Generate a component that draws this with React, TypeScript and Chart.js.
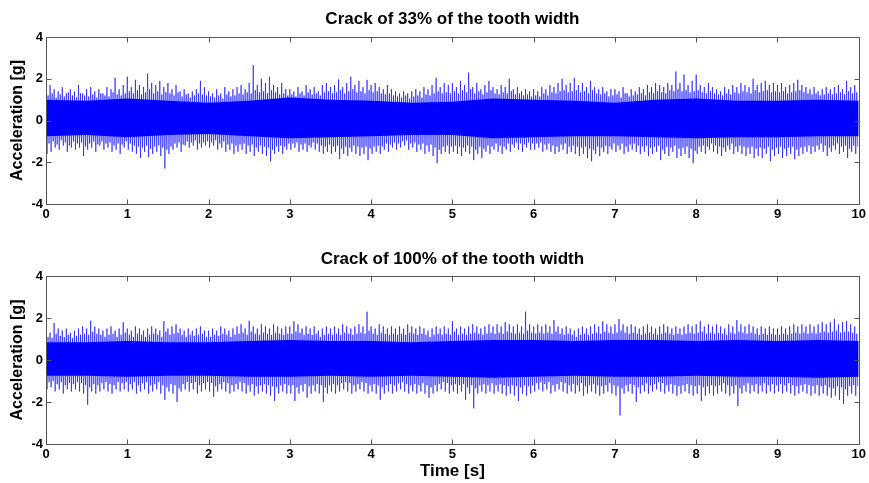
import React, { useEffect, useRef } from "react";
import { Chart, registerables } from "chart.js";

Chart.register(...registerables);

// ---------- data ----------
const SAMPLE_STEP = 0.05; // s between successive readings in each peak array
const CORE_STEP = 0.5; // s between core-band readings

const xTicks = [0, 1, 2, 3, 4, 5, 6, 7, 8, 9, 10];
const yTicks = [-4, -2, 0, 2, 4];

const titles = ["Crack of 33% of the tooth width", "Crack of 100% of the tooth width"];
const yLabel = "Acceleration [g]";
const xLabel = "Time [s]";

// 33 % crack: tall upper / lower peaks every 0.05 s
const crack33Up = [
  1.6, 1.7, 1.5, 1.4, 1.6, 1.3, 1.5, 1.4, 1.7, 1.3, 1.5, 1.6, 1.4, 1.5, 1.3, 1.6, 1.5, 2.05, 1.5, 1.7,
  2.1, 1.6, 1.95, 1.7, 1.6, 2.25, 1.8, 1.7, 1.9, 1.6, 1.8, 1.5, 1.7, 1.4, 1.5, 1.3, 1.4, 1.5, 1.9, 1.6,
  1.4, 1.3, 1.5, 1.3, 1.6, 1.4, 1.5, 1.6, 1.7, 1.5, 1.8, 2.65, 1.7, 2.0, 1.8, 2.1, 1.7, 1.6, 1.8, 1.5,
  1.5, 1.4, 1.6, 1.4, 1.7, 1.5, 1.6, 1.4, 1.7, 1.8, 1.6, 1.7, 1.97, 1.6, 1.8, 2.1, 1.7, 1.9, 1.6, 1.95,
  1.7, 1.8, 1.6, 1.5, 1.7, 1.5, 1.4, 1.3, 1.4, 1.3, 1.4, 1.5, 1.4, 1.6, 1.5, 1.7, 2.05, 1.6, 1.8, 1.7,
  1.8, 1.6, 1.9, 1.7, 2.3, 1.6, 1.8, 1.5, 1.7, 1.9, 1.6, 1.5, 1.7, 1.6, 2.0, 1.5, 1.6, 1.4, 1.5, 1.4,
  1.5, 1.4, 1.6, 1.5, 1.7, 1.6, 1.8, 2.0, 1.7, 1.8, 2.05, 1.7, 1.8, 1.6, 1.9, 1.6, 1.5, 1.6, 1.4, 1.5,
  1.5, 1.4, 1.6, 1.3, 1.5, 1.4, 1.6, 1.5, 1.7, 1.6, 1.8, 1.7, 1.6, 1.8, 1.7, 2.35, 1.8, 2.2, 1.7, 1.9,
  2.2, 1.7, 1.6, 1.8, 1.6, 1.5, 1.4, 1.6, 1.5, 1.7, 1.6, 1.8, 1.7, 1.6, 2.0, 1.7, 1.8, 1.9, 1.7, 1.8,
  1.7, 1.8, 1.6, 1.7, 1.8, 1.95, 1.7, 1.6, 1.5, 1.6, 1.4, 1.5, 1.6, 1.5, 1.6, 1.7, 1.5, 1.9, 1.6, 1.7,
];
const crack33Down = [
  -1.6, -1.5, -1.3, -1.4, -1.2, -1.5, -1.3, -1.4, -1.3, -1.7, -1.4, -1.3, -1.5, -1.2, -1.4, -1.3, -1.5, -1.4, -1.6, -1.3,
  -1.4, -1.5, -1.6, -1.8, -1.5, -1.75, -1.6, -1.5, -1.7, -2.3, -1.6, -1.4, -1.3, -1.5, -1.2, -1.3, -1.2, -1.4, -1.3, -1.2,
  -1.3, -1.2, -1.4, -1.3, -1.5, -1.4, -1.6, -1.5, -1.4, -1.6, -1.5, -1.7, -1.5, -1.6, -1.7, -1.95, -1.6, -1.5, -1.6, -1.4,
  -1.4, -1.3, -1.5, -1.4, -1.5, -1.3, -1.4, -1.5, -1.6, -1.5, -1.6, -1.5, -1.85, -1.6, -1.7, -1.5, -1.6, -1.7, -1.6, -1.9,
  -1.6, -1.5, -1.6, -1.4, -1.5, -1.3, -1.4, -1.3, -1.2, -1.4, -1.3, -1.5, -1.4, -1.6, -1.5, -1.7, -2.05, -1.6, -1.5, -1.6,
  -1.5, -1.6, -1.7, -1.5, -1.6, -1.9, -1.6, -1.8, -1.5, -1.6, -1.4, -1.5, -1.6, -1.4, -1.5, -1.3, -1.4, -1.5, -1.3, -1.4,
  -1.4, -1.3, -1.5, -1.4, -1.5, -1.6, -1.5, -1.4, -1.6, -1.5, -1.6, -1.7, -1.6, -1.8, -1.95, -1.6, -1.7, -1.5, -1.6, -1.4,
  -1.5, -1.4, -1.6, -1.5, -1.4, -1.5, -1.6, -1.5, -1.7, -1.6, -1.5, -1.9, -1.6, -1.7, -1.5, -1.8, -1.7, -1.6, -1.8, -2.05,
  -1.6, -1.5, -1.6, -1.4, -1.5, -1.6, -1.7, -1.5, -1.4, -1.6, -1.5, -1.6, -1.7, -1.6, -1.8, -1.7, -1.8, -1.6, -1.95, -1.7,
  -1.6, -1.8, -1.7, -1.6, -1.85, -1.7, -1.6, -1.5, -1.6, -1.5, -1.4, -1.5, -1.7, -1.5, -1.4, -1.6, -1.5, -1.8, -1.5, -1.6,
];
// 33 % crack: shorter in-between peaks, same 0.05 s grid (offset by half a step)
const crack33MidUp = [
  1.2, 1.3, 1.1, 1.25, 1.15, 1.35, 1.2, 1.1, 1.3, 1.2, 1.15, 1.25, 1.1, 1.3, 1.2, 1.15, 1.35, 1.25, 1.2, 1.3,
  1.4, 1.3, 1.45, 1.25, 1.35, 1.5, 1.3, 1.4, 1.25, 1.35, 1.3, 1.2, 1.35, 1.15, 1.25, 1.1, 1.2, 1.3, 1.25, 1.2,
  1.15, 1.1, 1.2, 1.05, 1.25, 1.15, 1.2, 1.3, 1.25, 1.35, 1.3, 1.45, 1.35, 1.4, 1.3, 1.45, 1.35, 1.25, 1.3, 1.2,
  1.25, 1.15, 1.3, 1.2, 1.35, 1.25, 1.3, 1.2, 1.35, 1.4, 1.3, 1.35, 1.45, 1.3, 1.4, 1.5, 1.35, 1.4, 1.3, 1.45,
  1.35, 1.4, 1.3, 1.25, 1.3, 1.2, 1.15, 1.1, 1.2, 1.05, 1.15, 1.2, 1.1, 1.25, 1.2, 1.3, 1.4, 1.3, 1.35, 1.3,
  1.4, 1.3, 1.45, 1.35, 1.5, 1.3, 1.4, 1.25, 1.35, 1.45, 1.3, 1.25, 1.35, 1.3, 1.4, 1.25, 1.3, 1.2, 1.25, 1.15,
  1.2, 1.15, 1.3, 1.2, 1.35, 1.3, 1.4, 1.45, 1.35, 1.4, 1.45, 1.35, 1.4, 1.3, 1.45, 1.3, 1.25, 1.3, 1.15, 1.2,
  1.25, 1.1, 1.3, 1.15, 1.2, 1.25, 1.3, 1.2, 1.35, 1.3, 1.4, 1.35, 1.3, 1.45, 1.4, 1.5, 1.4, 1.45, 1.35, 1.4,
  1.45, 1.35, 1.3, 1.4, 1.3, 1.25, 1.2, 1.3, 1.25, 1.35, 1.3, 1.4, 1.35, 1.3, 1.45, 1.35, 1.4, 1.45, 1.35, 1.4,
  1.35, 1.4, 1.3, 1.35, 1.4, 1.45, 1.35, 1.3, 1.25, 1.3, 1.2, 1.25, 1.3, 1.25, 1.3, 1.35, 1.25, 1.4, 1.3, 1.35,
];
const crack33MidDown = [
  -1.1, -1.0, -1.15, -0.95, -1.05, -1.2, -1.0, -1.1, -1.05, -1.25, -1.1, -1.0, -1.15, -1.0, -1.1, -1.05, -1.2, -1.1, -1.15, -1.0,
  -1.1, -1.2, -1.25, -1.3, -1.2, -1.35, -1.25, -1.2, -1.3, -1.4, -1.25, -1.1, -1.05, -1.15, -1.0, -1.05, -0.95, -1.1, -1.05, -1.0,
  -1.05, -0.95, -1.1, -1.0, -1.15, -1.1, -1.2, -1.15, -1.1, -1.2, -1.15, -1.3, -1.2, -1.25, -1.3, -1.4, -1.25, -1.2, -1.25, -1.1,
  -1.1, -1.05, -1.15, -1.1, -1.2, -1.05, -1.1, -1.2, -1.25, -1.15, -1.25, -1.2, -1.35, -1.25, -1.3, -1.2, -1.25, -1.3, -1.25, -1.35,
  -1.25, -1.2, -1.25, -1.1, -1.15, -1.05, -1.1, -1.0, -0.95, -1.1, -1.05, -1.15, -1.1, -1.2, -1.15, -1.3, -1.4, -1.25, -1.2, -1.25,
  -1.2, -1.25, -1.3, -1.2, -1.25, -1.4, -1.25, -1.35, -1.2, -1.25, -1.1, -1.2, -1.25, -1.1, -1.15, -1.05, -1.1, -1.15, -1.05, -1.1,
  -1.1, -1.05, -1.15, -1.1, -1.2, -1.25, -1.15, -1.1, -1.25, -1.2, -1.25, -1.3, -1.25, -1.35, -1.4, -1.25, -1.3, -1.2, -1.25, -1.1,
  -1.2, -1.1, -1.25, -1.15, -1.1, -1.2, -1.25, -1.2, -1.3, -1.25, -1.2, -1.4, -1.25, -1.3, -1.2, -1.35, -1.3, -1.25, -1.35, -1.45,
  -1.25, -1.2, -1.25, -1.1, -1.2, -1.25, -1.3, -1.2, -1.1, -1.25, -1.2, -1.25, -1.3, -1.25, -1.35, -1.3, -1.35, -1.25, -1.4, -1.3,
  -1.25, -1.35, -1.3, -1.25, -1.4, -1.3, -1.25, -1.2, -1.25, -1.2, -1.1, -1.2, -1.3, -1.2, -1.1, -1.25, -1.2, -1.35, -1.2, -1.25,
];
// 33 % crack: dense core band every 0.5 s
const crack33CoreUp = [1.0, 0.95, 1.05, 0.95, 0.85, 0.95, 1.1, 1.0, 0.95, 0.85, 0.9, 1.05, 1.0, 0.95, 0.85, 1.0, 1.05, 0.95, 0.95, 1.0, 0.95];
const crack33CoreLow = [-0.75, -0.7, -0.8, -0.7, -0.65, -0.75, -0.85, -0.8, -0.75, -0.7, -0.7, -0.85, -0.8, -0.75, -0.75, -0.8, -0.85, -0.8, -0.8, -0.75, -0.75];

// 100 % crack: tall upper / lower peaks every 0.05 s
const crack100Up = [
  1.4, 1.3, 1.76, 1.5, 1.4, 1.5, 1.3, 1.4, 1.5, 1.6, 1.5, 1.87, 1.6, 1.5, 1.4, 1.5, 1.6, 1.4, 1.5, 1.8,
  1.5, 1.4, 1.6, 1.5, 1.4, 1.5, 1.6, 1.5, 1.4, 1.85, 1.5, 1.6, 1.7, 1.5, 1.4, 1.5, 1.4, 1.5, 1.6, 1.4,
  1.4, 1.5, 1.4, 1.6, 1.5, 1.4, 1.5, 1.6, 1.7, 1.5, 1.87, 1.6, 1.5, 1.7, 1.6, 1.5, 1.7, 1.6, 1.5, 1.6,
  1.6, 1.85, 1.7, 1.5, 1.6, 1.5, 1.6, 1.4, 1.5, 1.6, 1.5, 1.6, 1.5, 1.7, 1.6, 1.5, 1.6, 1.7, 1.6, 2.3,
  1.6, 1.5, 1.7, 1.6, 1.5, 1.6, 1.5, 1.6, 1.5, 1.7, 1.6, 1.5, 1.6, 1.5, 1.4, 1.5, 1.6, 1.5, 1.6, 1.5,
  1.85, 1.5, 1.6, 1.5, 1.6, 1.7, 1.6, 1.5, 1.6, 1.7, 1.6, 1.7, 1.6, 1.8, 1.7, 1.6, 1.7, 1.6, 2.3, 1.7,
  1.6, 1.7, 1.6, 1.7, 1.6, 1.9, 1.6, 1.5, 1.6, 1.5, 1.4, 1.5, 1.6, 1.5, 1.6, 1.7, 1.6, 1.85, 1.7, 1.6,
  1.7, 1.95, 1.7, 1.6, 1.7, 1.6, 1.5, 1.6, 1.7, 1.6, 1.5, 1.6, 1.7, 1.6, 1.5, 1.6, 1.5, 1.6, 1.7, 1.6,
  1.7, 1.85, 1.6, 1.7, 1.6, 1.7, 1.6, 1.5, 1.7, 1.6, 1.9, 1.7, 1.6, 1.7, 1.6, 1.5, 1.6, 1.5, 1.6, 1.5,
  1.5, 1.6, 1.5, 1.6, 1.7, 1.6, 1.7, 1.6, 1.7, 1.6, 1.7, 1.8, 1.7, 1.8, 1.96, 1.7, 1.8, 1.85, 1.7, 1.6,
];
const crack100Down = [
  -1.4, -1.3, -1.5, -1.4, -1.6, -1.4, -1.5, -1.4, -1.5, -1.6, -2.13, -1.5, -1.6, -1.5, -1.4, -1.5, -1.6, -1.4, -1.5, -1.4,
  -1.5, -1.4, -1.6, -1.5, -1.4, -1.6, -1.5, -1.4, -1.6, -1.9, -1.5, -1.6, -2.0, -1.5, -1.4, -1.5, -1.4, -1.6, -1.5, -1.4,
  -1.5, -1.75, -1.5, -1.4, -1.5, -1.6, -1.5, -1.4, -1.5, -1.6, -1.5, -1.7, -1.6, -1.5, -1.6, -1.7, -1.95, -1.6, -1.5, -1.6,
  -1.6, -1.95, -1.6, -1.5, -1.8, -1.6, -1.5, -1.6, -2.0, -1.6, -1.5, -1.6, -1.5, -1.4, -1.5, -1.6, -1.5, -1.4, -1.5, -1.6,
  -1.5, -1.6, -1.9, -1.6, -1.5, -1.6, -1.5, -1.4, -1.5, -1.6, -1.5, -1.6, -1.5, -1.6, -1.8, -1.6, -1.5, -1.4, -1.5, -1.6,
  -1.5, -1.6, -1.5, -1.9, -1.6, -2.3, -1.6, -1.5, -1.6, -1.5, -1.6, -1.5, -1.6, -1.7, -1.6, -1.7, -1.95, -1.6, -1.7, -1.6,
  -1.5, -1.4, -1.5, -1.4, -1.6, -1.5, -1.4, -1.5, -1.6, -1.5, -1.6, -1.5, -1.7, -1.6, -1.5, -1.6, -1.7, -1.6, -1.5, -1.6,
  -1.7, -2.64, -1.6, -1.5, -1.6, -2.0, -1.6, -1.5, -1.6, -1.5, -1.4, -1.5, -1.6, -1.5, -1.6, -1.7, -1.6, -1.5, -1.6, -1.7,
  -1.6, -1.95, -1.7, -1.6, -1.7, -1.6, -1.5, -1.6, -1.7, -1.6, -2.2, -1.6, -1.5, -1.6, -1.5, -1.6, -1.5, -1.6, -1.5, -1.6,
  -1.5, -1.6, -1.5, -1.6, -1.7, -1.6, -1.5, -1.6, -1.7, -1.6, -1.7, -1.6, -1.7, -1.8, -1.7, -1.9, -2.1, -1.7, -1.6, -1.7,
];
// 100 % crack: shorter in-between peaks
const crack100MidUp = [
  1.1, 1.05, 1.25, 1.15, 1.1, 1.2, 1.05, 1.15, 1.2, 1.25, 1.2, 1.35, 1.25, 1.2, 1.1, 1.2, 1.25, 1.1, 1.2, 1.3,
  1.2, 1.1, 1.25, 1.2, 1.1, 1.2, 1.25, 1.2, 1.1, 1.35, 1.2, 1.25, 1.3, 1.2, 1.1, 1.2, 1.15, 1.2, 1.25, 1.1,
  1.1, 1.2, 1.15, 1.25, 1.2, 1.1, 1.2, 1.25, 1.3, 1.2, 1.35, 1.25, 1.2, 1.3, 1.25, 1.2, 1.3, 1.25, 1.2, 1.25,
  1.25, 1.35, 1.3, 1.2, 1.25, 1.2, 1.25, 1.1, 1.2, 1.25, 1.2, 1.25, 1.2, 1.3, 1.25, 1.2, 1.25, 1.3, 1.25, 1.4,
  1.25, 1.2, 1.3, 1.25, 1.2, 1.25, 1.2, 1.25, 1.2, 1.3, 1.25, 1.2, 1.25, 1.2, 1.1, 1.2, 1.25, 1.2, 1.25, 1.2,
  1.35, 1.2, 1.25, 1.2, 1.25, 1.3, 1.25, 1.2, 1.25, 1.3, 1.25, 1.3, 1.25, 1.35, 1.3, 1.25, 1.3, 1.25, 1.4, 1.3,
  1.25, 1.3, 1.25, 1.3, 1.25, 1.35, 1.25, 1.2, 1.25, 1.2, 1.1, 1.2, 1.25, 1.2, 1.25, 1.3, 1.25, 1.35, 1.3, 1.25,
  1.3, 1.4, 1.3, 1.25, 1.3, 1.25, 1.2, 1.25, 1.3, 1.25, 1.2, 1.25, 1.3, 1.25, 1.2, 1.25, 1.2, 1.25, 1.3, 1.25,
  1.3, 1.35, 1.25, 1.3, 1.25, 1.3, 1.25, 1.2, 1.3, 1.25, 1.35, 1.3, 1.25, 1.3, 1.25, 1.2, 1.25, 1.2, 1.25, 1.2,
  1.2, 1.25, 1.2, 1.25, 1.3, 1.25, 1.3, 1.25, 1.3, 1.25, 1.3, 1.35, 1.3, 1.35, 1.4, 1.3, 1.35, 1.35, 1.3, 1.25,
];
const crack100MidDown = [
  -1.05, -1.0, -1.15, -1.05, -1.2, -1.1, -1.15, -1.05, -1.1, -1.2, -1.3, -1.15, -1.2, -1.1, -1.05, -1.15, -1.2, -1.05, -1.1, -1.05,
  -1.15, -1.05, -1.2, -1.1, -1.05, -1.2, -1.15, -1.05, -1.2, -1.3, -1.15, -1.2, -1.35, -1.15, -1.05, -1.1, -1.05, -1.2, -1.1, -1.05,
  -1.1, -1.25, -1.15, -1.05, -1.1, -1.2, -1.15, -1.05, -1.1, -1.2, -1.15, -1.25, -1.2, -1.15, -1.2, -1.25, -1.3, -1.2, -1.15, -1.2,
  -1.2, -1.3, -1.2, -1.15, -1.25, -1.2, -1.15, -1.2, -1.3, -1.2, -1.15, -1.2, -1.1, -1.05, -1.1, -1.2, -1.15, -1.05, -1.1, -1.2,
  -1.15, -1.2, -1.3, -1.2, -1.15, -1.2, -1.1, -1.05, -1.15, -1.2, -1.15, -1.2, -1.1, -1.2, -1.3, -1.2, -1.15, -1.05, -1.1, -1.2,
  -1.15, -1.2, -1.15, -1.3, -1.2, -1.35, -1.2, -1.15, -1.2, -1.1, -1.2, -1.15, -1.2, -1.25, -1.2, -1.25, -1.3, -1.2, -1.25, -1.2,
  -1.1, -1.05, -1.15, -1.05, -1.2, -1.15, -1.05, -1.1, -1.2, -1.15, -1.2, -1.1, -1.25, -1.2, -1.15, -1.2, -1.25, -1.2, -1.1, -1.2,
  -1.25, -1.35, -1.2, -1.15, -1.2, -1.3, -1.2, -1.1, -1.2, -1.15, -1.05, -1.1, -1.2, -1.15, -1.2, -1.25, -1.2, -1.15, -1.2, -1.25,
  -1.2, -1.3, -1.25, -1.2, -1.25, -1.2, -1.1, -1.2, -1.25, -1.2, -1.35, -1.2, -1.1, -1.2, -1.15, -1.2, -1.1, -1.2, -1.15, -1.2,
  -1.15, -1.2, -1.1, -1.2, -1.25, -1.2, -1.15, -1.2, -1.25, -1.2, -1.25, -1.2, -1.3, -1.35, -1.25, -1.3, -1.4, -1.25, -1.2, -1.25,
];
// 100 % crack: dense core band every 0.5 s
const crack100CoreUp = [0.85, 0.85, 0.9, 0.85, 0.85, 0.9, 0.95, 0.9, 0.9, 0.85, 0.9, 0.95, 0.95, 0.9, 0.95, 0.95, 0.9, 0.95, 0.9, 0.95, 0.9];
const crack100CoreLow = [-0.75, -0.75, -0.8, -0.75, -0.75, -0.8, -0.8, -0.75, -0.8, -0.75, -0.8, -0.85, -0.8, -0.75, -0.8, -0.8, -0.75, -0.8, -0.8, -0.85, -0.8];

// ---------- styling ----------
const FONT = "'Liberation Sans', Arial, Helvetica, sans-serif";
const BLUE = "#0000ff";
const SPIKE = "rgba(0,0,255,0.85)";
const AXIS = "#555555";

const framePlugin = {
  id: "matlabFrame",
  afterDatasetsDraw(chart: any) {
    const { ctx, chartArea: a, scales } = chart;
    const x = scales.x;
    const y = scales.y;
    const L = Math.round(a.left) + 0.5;
    const R = Math.round(a.right) + 0.5;
    const T = Math.round(a.top) + 0.5;
    const B = Math.round(a.bottom) + 0.5;
    const tl = 5;
    ctx.save();
    ctx.strokeStyle = AXIS;
    ctx.lineWidth = 1;
    ctx.beginPath();
    x.ticks.forEach((t: any) => {
      const px = Math.round(x.getPixelForValue(t.value)) + 0.5;
      ctx.moveTo(px, B);
      ctx.lineTo(px, B - tl);
      ctx.moveTo(px, T);
      ctx.lineTo(px, T + tl);
    });
    y.ticks.forEach((t: any) => {
      const py = Math.round(y.getPixelForValue(t.value)) + 0.5;
      ctx.moveTo(L, py);
      ctx.lineTo(L + tl, py);
      ctx.moveTo(R, py);
      ctx.lineTo(R - tl, py);
    });
    ctx.stroke();
    ctx.strokeRect(L, T, R - L, B - T);
    ctx.restore();
  },
};

// Signal trace: tall peak up, tall peak down, short peak up, short peak down, per 0.05 s reading.
function buildSignal(up: number[], down: number[], midUp: number[], midDown: number[]) {
  const pts: { x: number; y: number }[] = [];
  const q = SAMPLE_STEP / 4;
  up.forEach((u, i) => {
    const t = i * SAMPLE_STEP;
    pts.push({ x: t, y: u });
    pts.push({ x: t + q, y: down[i] });
    pts.push({ x: t + 2 * q, y: midUp[i] });
    pts.push({ x: t + 3 * q, y: midDown[i] });
  });
  return pts;
}

function buildCore(vals: number[]) {
  return vals.map((v, j) => ({ x: j * CORE_STEP, y: v }));
}

function makeConfig(
  title: string,
  signal: { x: number; y: number }[],
  coreUp: number[],
  coreLow: number[],
  showXTitle: boolean,
  xAxisHeight: number,
  bottomPad: number,
  titleBottomPad: number
): any {
  return {
    type: "line",
    data: {
      datasets: [
        {
          data: buildCore(coreUp),
          borderColor: BLUE,
          backgroundColor: BLUE,
          borderWidth: 0,
          pointRadius: 0,
          fill: "+1",
        },
        {
          data: buildCore(coreLow),
          borderColor: BLUE,
          backgroundColor: BLUE,
          borderWidth: 0,
          pointRadius: 0,
          fill: false,
        },
        {
          data: signal,
          borderColor: SPIKE,
          borderWidth: 0.7,
          pointRadius: 0,
          fill: false,
          tension: 0,
        },
      ],
    },
    options: {
      responsive: false,
      animation: false,
      devicePixelRatio: 1,
      layout: { padding: { top: 0, left: 0, right: 9, bottom: bottomPad } },
      plugins: {
        legend: { display: false },
        tooltip: { enabled: false },
        title: {
          display: true,
          fullSize: false,
          text: title,
          color: "#000",
          font: { family: FONT, size: 17, weight: "bold" },
          padding: { top: 9, bottom: titleBottomPad },
        },
      },
      scales: {
        x: {
          type: "linear",
          min: 0,
          max: 10,
          afterBuildTicks: (s: any) => {
            s.ticks = xTicks.map((v) => ({ value: v }));
          },
          afterFit: (s: any) => {
            s.height = xAxisHeight;
          },
          grid: { display: false, drawTicks: false },
          border: { display: false },
          ticks: {
            color: "#000",
            padding: 3,
            maxRotation: 0,
            autoSkip: false,
            font: { family: FONT, size: 13, weight: "bold" },
          },
          title: {
            display: showXTitle,
            text: xLabel,
            color: "#000",
            font: { family: FONT, size: 17, weight: "bold" },
            padding: { top: 0, bottom: 1 },
          },
        },
        y: {
          type: "linear",
          min: -4,
          max: 4,
          afterBuildTicks: (s: any) => {
            s.ticks = yTicks.map((v) => ({ value: v }));
          },
          afterFit: (s: any) => {
            s.width = 46;
          },
          grid: { display: false, drawTicks: false },
          border: { display: false },
          ticks: {
            color: "#000",
            padding: 3,
            autoSkip: false,
            font: { family: FONT, size: 13, weight: "bold" },
          },
          title: {
            display: true,
            text: yLabel,
            color: "#000",
            font: { family: FONT, size: 16, weight: "bold" },
            padding: { top: 8, bottom: 0 },
          },
        },
      },
    },
    plugins: [framePlugin],
  };
}

export default function App() {
  const topRef = useRef<HTMLCanvasElement>(null);
  const botRef = useRef<HTMLCanvasElement>(null);

  useEffect(() => {
    const c1 = new Chart(
      topRef.current as HTMLCanvasElement,
      makeConfig(
        titles[0],
        buildSignal(crack33Up, crack33Down, crack33MidUp, crack33MidDown),
        crack33CoreUp,
        crack33CoreLow,
        false,
        30,
        6,
        7.6
      )
    );
    const c2 = new Chart(
      botRef.current as HTMLCanvasElement,
      makeConfig(
        titles[1],
        buildSignal(crack100Up, crack100Down, crack100MidUp, crack100MidDown),
        crack100CoreUp,
        crack100CoreLow,
        true,
        39,
        0,
        6.6
      )
    );
    return () => {
      c1.destroy();
      c2.destroy();
    };
  }, []);

  return (
    <div style={{ position: "fixed", left: 0, top: 0, width: 869, height: 483, background: "#fff" }}>
      <canvas ref={topRef} width={869} height={240} style={{ position: "absolute", left: 0, top: 0, width: 869, height: 240 }} />
      <canvas ref={botRef} width={869} height={243} style={{ position: "absolute", left: 0, top: 240, width: 869, height: 243 }} />
    </div>
  );
}
